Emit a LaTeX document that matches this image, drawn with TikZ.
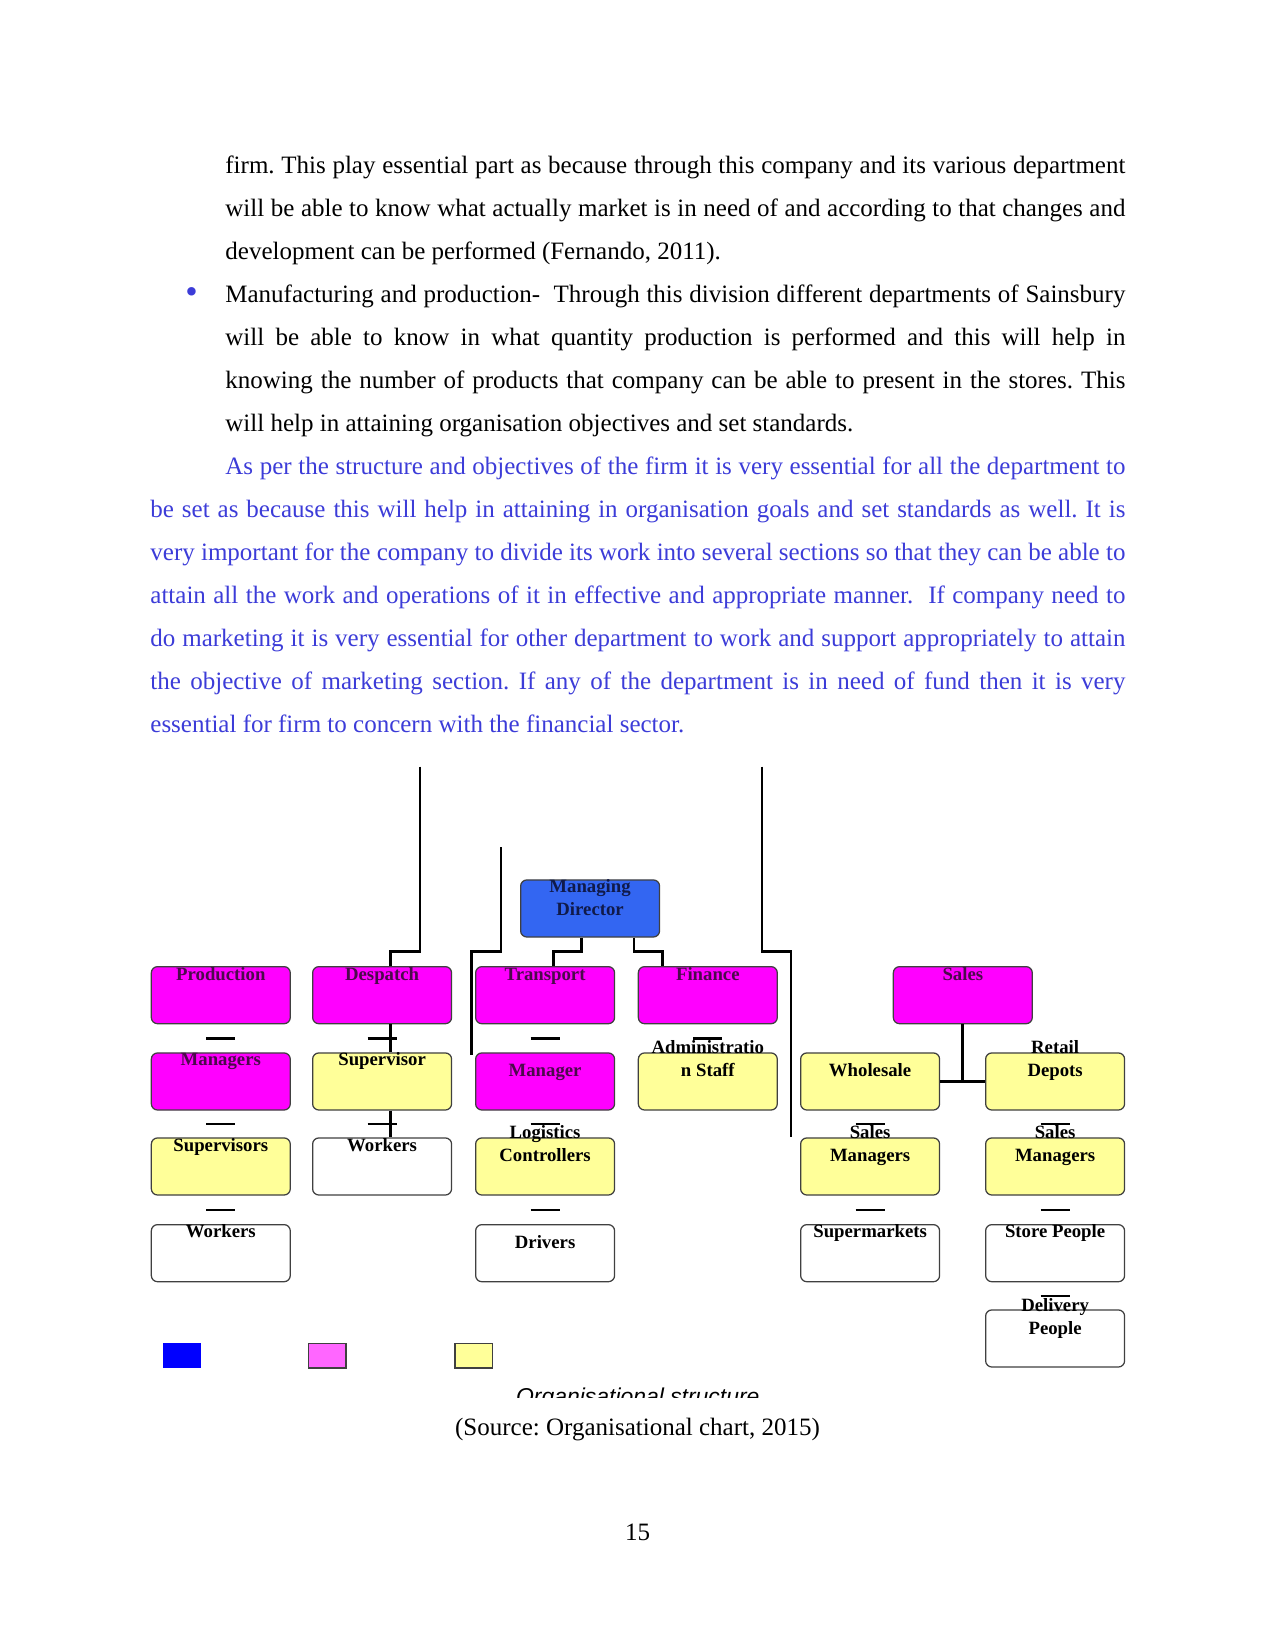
\documentclass[tikz,border=0pt]{standalone}
\usepackage{fontspec}
\setmainfont{Liberation Serif}
\newfontfamily\capfont{Liberation Sans}
\usetikzlibrary{calc}
\definecolor{mdblue}{HTML}{3366F2}
\definecolor{deptpink}{HTML}{FF00FF}
\definecolor{subyellow}{HTML}{FFFF99}
\definecolor{keyblue}{HTML}{0000FF}
\definecolor{keypink}{HTML}{FF66FF}
\definecolor{bodyblue}{HTML}{3C3CD8}
\definecolor{pinktext}{HTML}{4B0A4B}
\definecolor{mdtext}{HTML}{101A4A}
\colorlet{boxborder}{black!75}
\frenchspacing

\begin{document}
\begin{tikzpicture}[
    x=0.48pt, y=-0.48pt,
    body/.style={font=\fontsize{12}{20.7}\selectfont, align=justify,
                 inner sep=0pt, anchor=base west},
    box/.style={draw=boxborder, line width=0.6pt, rounded corners=3pt,
                minimum width=66.7pt, minimum height=27.4pt, inner sep=0pt,
                anchor=north west},
    mdbox/.style={box, fill=mdblue},
    deptbox/.style={box, fill=deptpink},
    subbox/.style={box, fill=subyellow},
    staffbox/.style={box, fill=white},
    boxtext/.style={font=\fontsize{9}{11}\selectfont\bfseries, align=center,
                    inner sep=0pt, anchor=base},
    link/.style={line width=1.2pt},
    salelink/.style={line width=1.5pt},
    keybox/.style={minimum width=18.1pt, minimum height=11.8pt, inner sep=0pt,
                   anchor=north west, line width=0.6pt},
]
\useasboundingbox (0,0) rectangle (1275,1650);

\def\rowone{966}
\def\rowtwo{1052.3}
\def\rowthree{1137.3}
\def\rowfour{1224}
\def\rowfive{1309.3}
\def\colone{150.7}
\def\coltwo{312}
\def\colthree{475}
\def\colfour{637.7}
\def\colfive{800}
\def\colsix{985}
\def\busy{951.7}

% Org box macro: #1 name, #2 x, #3 y, #4 style, #5 text colour,
%                #6 last baseline below top, #7 text
\newcommand{\orgbox}[7]{
    \node[#4] (#1) at (#2, #3) {};
    \node[boxtext, text=#5] (#1-txt) at ($(#1.north)+(0,#6)$) {#7};
}
% short stub between two boxes of a column
\newcommand{\orgstub}[2]{
    \draw[link] ($(#1.south)!0.5!(#2.north)$) ++(-14.5,0) -- ++(29,0);
}

% TEXT of the page
\node[body, text width=432pt] (para-a) at (225,173.3)
    {firm. This play essential part as because through this company and its various department\linebreak
     will be able to know what actually market is in need of and according to that changes and\linebreak
     development can be performed (Fernando, 2011).};
\node[font=\fontsize{17}{17}\selectfont, text=bodyblue, inner sep=0pt, anchor=base]
    (bullet) at (191.5,304) {•};
\node[body, text width=432pt] (item) at (225,302.2)
    {Manufacturing and production-\ \ Through this division different departments of Sainsbury\linebreak
     will be able to know in what quantity production is performed and this will help in\linebreak
     knowing the number of products that company can be able to present in the stores. This\linebreak
     will help in attaining organisation objectives and set standards.};
\node[body, text width=468pt, text=bodyblue] (para-b) at (150,474)
    {\hspace*{36pt}As per the structure and objectives of the firm it is very essential for all the department to\linebreak
     be set as because this will help in attaining in organisation goals and set standards as well. It is\linebreak
     very important for the company to divide its work into several sections so that they can be able to\linebreak
     attain all the work and operations of it in effective and appropriate manner.\ \ If company need to\linebreak
     do marketing it is very essential for other department to work and support appropriately to attain\linebreak
     the objective of marketing section. If any of the department is in need of fund then it is very\linebreak
     essential for firm to concern with the financial sector.};

% TOP of the chart
\orgbox{md}{520}{879.3}{mdbox}{mdtext}{36}{Managing\\Director}

% FIRST ROW: departments
\orgbox{prod}{\colone}{\rowone}{deptbox}{pinktext}{14}{Production}
\orgbox{desp}{\coltwo}{\rowone}{deptbox}{pinktext}{14}{Despatch}
\orgbox{trans}{\colthree}{\rowone}{deptbox}{pinktext}{14}{Transport}
\orgbox{fin}{\colfour}{\rowone}{deptbox}{pinktext}{14}{Finance}
\orgbox{sales}{892.7}{\rowone}{deptbox}{pinktext}{14}{Sales}

% SECOND ROW
\orgbox{mgrs}{\colone}{\rowtwo}{deptbox}{pinktext}{13}{Managers}
\orgbox{sup}{\coltwo}{\rowtwo}{subbox}{black}{13}{Supervisor}
\orgbox{mgr}{\colthree}{\rowtwo}{deptbox}{pinktext}{24}{Manager}
\orgbox{admin}{\colfour}{\rowtwo}{subbox}{black}{24}{Administratio\\n Staff}
\orgbox{whole}{\colfive}{\rowtwo}{subbox}{black}{24}{Wholesale}
\orgbox{retail}{\colsix}{\rowtwo}{subbox}{black}{24}{Retail\\Depots}

% THIRD ROW
\orgbox{sups}{\colone}{\rowthree}{subbox}{black}{14}{Supervisors}
\orgbox{wkb}{\coltwo}{\rowthree}{staffbox}{black}{14}{Workers}
\orgbox{logi}{\colthree}{\rowthree}{subbox}{black}{24.5}{Logistics\\Controllers}
\orgbox{smgra}{\colfive}{\rowthree}{subbox}{black}{24.5}{Sales\\Managers}
\orgbox{smgrb}{\colsix}{\rowthree}{subbox}{black}{24.5}{Sales\\Managers}

% FOURTH and FIFTH ROW
\orgbox{wka}{\colone}{\rowfour}{staffbox}{black}{13}{Workers}
\orgbox{drv}{\colthree}{\rowfour}{staffbox}{black}{24}{Drivers}
\orgbox{supm}{\colfive}{\rowfour}{staffbox}{black}{13}{Supermarkets}
\orgbox{store}{\colsix}{\rowfour}{staffbox}{black}{13}{Store People}
\orgbox{deliv}{\colsix}{\rowfive}{staffbox}{black}{24.7}{Delivery\\People}

% long feed lines from above
\coordinate (feeda) at (420,766.7);
\coordinate (feedb) at (501,847);
\coordinate (feedb-end) at (471.7,1055);
\coordinate (feedc) at (762,766.7);
\coordinate (feedc-end) at (791,1136.7);
\draw[link] (feeda) |- (390.7,\busy) -- (desp.north -| 390.7,0);
\draw[link] (feedb) |- (feedb-end |- 0,\busy) -- (feedb-end);
\draw[link] (feedc) |- (feedc-end |- 0,\busy) -- (feedc-end);

% director to departments
\draw[link] (md.south -| 581.7,0) -- (581.7,\busy) -| (trans.north -| 553.3,0);
\draw[link] (md.south -| 634,0) -- (634,\busy) -| (fin.north -| 662.7,0);

% despatch column
\draw[link] (desp.south -| 390.7,0) -- (sup.north -| 390.7,0);
\draw[link] (sup.south -| 390.7,0) -- (wkb.north -| 390.7,0);

% sales branch
\draw[salelink] (sales.south) -- (sales.south |- whole.east);
\draw[salelink] (whole.east) -- (retail.west);

% stubs
\orgstub{prod}{mgrs}
\orgstub{mgrs}{sups}
\orgstub{sups}{wka}
\orgstub{desp}{sup}
\orgstub{sup}{wkb}
\orgstub{trans}{mgr}
\orgstub{mgr}{logi}
\orgstub{logi}{drv}
\orgstub{fin}{admin}
\orgstub{whole}{smgra}
\orgstub{smgra}{supm}
\orgstub{retail}{smgrb}
\orgstub{smgrb}{store}
\orgstub{store}{deliv}

% key
\node[keybox, fill=keyblue] (key-md) at (162.3,1342.7) {};
\node[keybox, fill=keypink, draw=boxborder] (key-dept) at (307.7,1342.7) {};
\node[keybox, fill=subyellow, draw=boxborder] (key-sub) at (454.3,1342.7) {};

% caption, cut off at its foot
\begin{scope}
    \clip (0,1380) rectangle (1275,1397.3);
    \node[font=\capfont\itshape\fontsize{11}{13}\selectfont, inner sep=0pt, anchor=base]
        (caption) at (637.8,1404.7) {Organisational structure};
\end{scope}
\node[font=\fontsize{12}{14}\selectfont, inner sep=0pt, anchor=base]
    (source) at (637.5,1435) {(Source: Organisational chart, 2015)};
\node[font=\fontsize{12}{14}\selectfont, inner sep=0pt, anchor=base]
    (pagenum) at (637.5,1540) {15};

\end{tikzpicture}
\end{document}
